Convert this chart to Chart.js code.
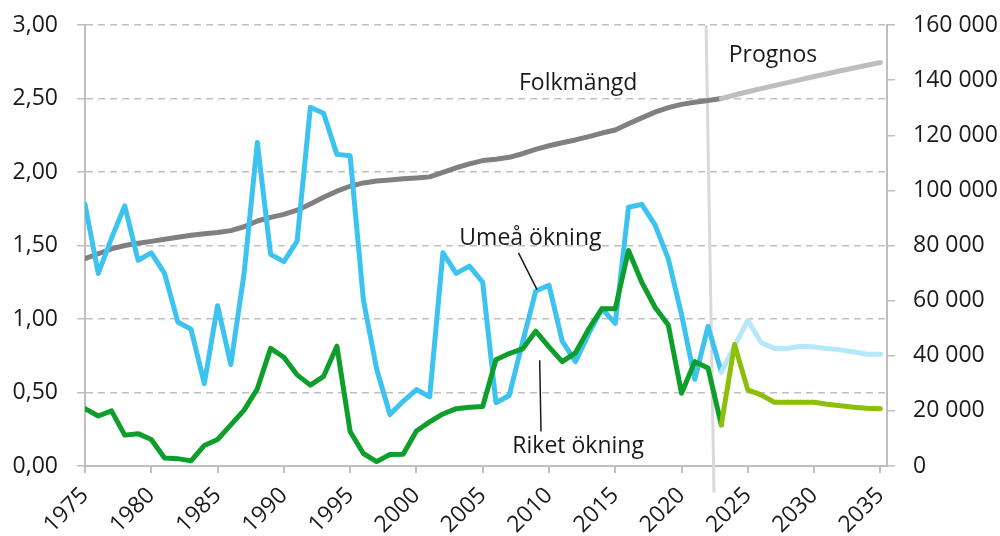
<!DOCTYPE html>
<html lang="sv">
<head>
<meta charset="utf-8">
<title>Folkmängd och befolkningsökning, Umeå och riket</title>
<script src="https://cdn.jsdelivr.net/npm/chart.js@4.4.1/dist/chart.umd.min.js"></script>
<style>
  html, body { margin: 0; padding: 0; background: #fff; }
  #wrap { position: relative; width: 1000px; height: 536px; }
</style>
</head>
<body>
<div id="wrap"><canvas id="chart" width="1000" height="536"></canvas></div>
<script>
// Utfall 1975-2023 och prognos 2023-2035
const histYears = [
  1975, 1976, 1977, 1978, 1979, 1980, 1981, 1982, 1983, 1984,
  1985, 1986, 1987, 1988, 1989, 1990, 1991, 1992, 1993, 1994,
  1995, 1996, 1997, 1998, 1999, 2000, 2001, 2002, 2003, 2004,
  2005, 2006, 2007, 2008, 2009, 2010, 2011, 2012, 2013, 2014,
  2015, 2016, 2017, 2018, 2019, 2020, 2021, 2022, 2023,
];
const progYears = [2023, 2024, 2025, 2026, 2027, 2028, 2029, 2030, 2031, 2032, 2033, 2034, 2035];

// Procentuell ökning (vänster axel)
const umeaHist = [
  1.78, 1.31, 1.55, 1.77, 1.40, 1.45, 1.31, 0.98, 0.93, 0.56,
  1.09, 0.69, 1.31, 2.20, 1.44, 1.39, 1.53, 2.44, 2.40, 2.12,
  2.11, 1.13, 0.66, 0.35, 0.44, 0.52, 0.47, 1.45, 1.31, 1.36,
  1.25, 0.43, 0.48, 0.84, 1.19, 1.23, 0.85, 0.71, 0.90, 1.07,
  0.97, 1.76, 1.78, 1.64, 1.41, 1.03, 0.59, 0.95, 0.64,
];
const umeaProg = [0.64, 0.815, 0.99, 0.84, 0.80, 0.80, 0.815, 0.81, 0.80, 0.79, 0.775, 0.76, 0.76];

const riketHist = [
  0.39, 0.34, 0.375, 0.21, 0.22, 0.18, 0.055, 0.05, 0.035, 0.14,
  0.18, 0.28, 0.38, 0.525, 0.80, 0.74, 0.62, 0.55, 0.61, 0.815,
  0.235, 0.085, 0.03, 0.078, 0.08, 0.238, 0.30, 0.354, 0.39, 0.40,
  0.405, 0.723, 0.765, 0.796, 0.917, 0.81, 0.71, 0.77, 0.933, 1.07,
  1.07, 1.466, 1.25, 1.08, 0.96, 0.495, 0.71, 0.666, 0.28,
];
const riketProg = [0.28, 0.826, 0.518, 0.484, 0.434, 0.434, 0.434, 0.434, 0.42, 0.41, 0.40, 0.393, 0.39];

// Folkmängd Umeå (höger axel)
const folkHist = [
  75200, 77000, 78800, 80000, 80800, 81500, 82300, 83000, 83700, 84300,
  84700, 85400, 86800, 88900, 90200, 91300, 92800, 95100, 97500, 99700,
  101500, 102700, 103400, 103800, 104200, 104500, 104900, 106500, 108200, 109600,
  110800, 111300, 112000, 113300, 114900, 116200, 117300, 118300, 119500, 120800,
  121900, 124200, 126300, 128400, 130000, 131200, 132000, 132600, 133300,
];
const folkProg = [133300, 134600, 135800, 136900, 138000, 139100, 140200, 141300, 142300, 143400, 144400, 145400, 146400];

const xTickYears = [1975, 1980, 1985, 1990, 1995, 2000, 2005, 2010, 2015, 2020, 2025, 2030, 2035];
const leftTicks = [0, 0.5, 1, 1.5, 2, 2.5, 3];
const rightTicks = [0, 20000, 40000, 60000, 80000, 100000, 120000, 140000, 160000];

const FONT = '"Open Sans", "Noto Sans", sans-serif';
const TEXT = '#1a1a1a';
const AXIS = '#BFBFBF';

function pairs(years, values) {
  return years.map((y, i) => ({ x: y, y: values[i] }));
}

function line(label, years, values, color, axis) {
  return {
    label,
    data: pairs(years, values),
    yAxisID: axis,
    borderColor: color,
    backgroundColor: color,
    borderWidth: 5,
    borderJoinStyle: 'round',
    borderCapStyle: 'round',
    pointRadius: 0,
    tension: 0,
    fill: false,
  };
}

// the y scales reserve tick padding above the top label; drop it so layout.padding decides
function fixVertical(width) {
  return (scale) => {
    scale.width = width;
    scale.paddingTop = 0;
    scale.paddingBottom = 0;
  };
}

const annotations = {
  id: 'annotations',
  beforeDatasetsDraw(chart) {
    const { ctx, scales: { x, y } } = chart;
    ctx.save();
    ctx.strokeStyle = '#D9D9D9';
    ctx.lineWidth = 3;
    ctx.beginPath();
    ctx.moveTo(x.getPixelForValue(2021.85), y.getPixelForValue(3.0));
    ctx.lineTo(x.getPixelForValue(2022.45), y.getPixelForValue(-0.18));
    ctx.stroke();
    ctx.restore();
  },
  afterDatasetsDraw(chart) {
    const { ctx, scales: { x, y } } = chart;
    ctx.save();
    ctx.fillStyle = TEXT;
    ctx.font = '23px ' + FONT;
    ctx.textAlign = 'center';
    ctx.textBaseline = 'middle';
    ctx.fillText('Folkmängd', x.getPixelForValue(2012.2), y.getPixelForValue(2.6));
    ctx.fillText('Prognos', x.getPixelForValue(2026.9), y.getPixelForValue(2.79));
    ctx.fillText('Umeå ökning', x.getPixelForValue(2008.6), y.getPixelForValue(1.55));
    ctx.fillText('Riket ökning', x.getPixelForValue(2012.2), y.getPixelForValue(0.13));

    ctx.strokeStyle = TEXT;
    ctx.lineWidth = 1.5;
    ctx.beginPath();
    ctx.moveTo(x.getPixelForValue(2007.7), y.getPixelForValue(1.45));
    ctx.lineTo(x.getPixelForValue(2009.1), y.getPixelForValue(1.2));
    ctx.moveTo(x.getPixelForValue(2009.3), y.getPixelForValue(0.72));
    ctx.lineTo(x.getPixelForValue(2009.4), y.getPixelForValue(0.235));
    ctx.stroke();
    ctx.restore();
  },
};

function initChart() {
  const canvas = document.getElementById('chart');
  if (!(canvas instanceof HTMLCanvasElement)) return;

  const tickFont = { family: FONT, size: 23 };

  new Chart(canvas, {
    type: 'line',
    data: {
      datasets: [
        line('Riket ökning prognos', progYears, riketProg, '#8CBE0A', 'y'),
        line('Riket ökning', histYears, riketHist, '#0E9E2B', 'y'),
        line('Umeå ökning prognos', progYears, umeaProg, '#B5E8FA', 'y'),
        line('Umeå ökning', histYears, umeaHist, '#3CC3F0', 'y'),
        line('Folkmängd prognos', progYears, folkProg, '#BEBEBE', 'y1'),
        line('Folkmängd', histYears, folkHist, '#808080', 'y1'),
      ],
    },
    options: {
      responsive: false,
      animation: false,
      layout: { padding: { top: 25, left: 0, right: 0, bottom: 0 } },
      plugins: {
        legend: { display: false },
        tooltip: { enabled: false },
      },
      scales: {
        x: {
          type: 'linear',
          min: 1975,
          max: 2035.5,
          afterBuildTicks(scale) {
            scale.ticks = xTickYears.map((v) => ({ value: v }));
          },
          afterFit(scale) {
            scale.height = 70;
          },
          grid: { drawOnChartArea: false, tickLength: 7, color: AXIS, lineWidth: 2 },
          border: { color: AXIS, width: 2 },
          ticks: {
            minRotation: 45,
            maxRotation: 45,
            padding: 9,
            color: TEXT,
            font: tickFont,
            callback: (v) => String(v),
          },
        },
        y: {
          position: 'left',
          min: 0,
          max: 3,
          afterBuildTicks(scale) {
            scale.ticks = leftTicks.map((v) => ({ value: v }));
          },
          afterFit: fixVertical(85),
          grid: { color: AXIS, lineWidth: 1.5, tickLength: 8 },
          border: { color: AXIS, width: 2, dash: [7, 5] },
          ticks: {
            padding: 19,
            color: TEXT,
            font: tickFont,
            callback: (v) => Number(v).toFixed(2).replace('.', ','),
          },
        },
        y1: {
          position: 'right',
          min: 0,
          max: 160000,
          afterBuildTicks(scale) {
            scale.ticks = rightTicks.map((v) => ({ value: v }));
          },
          afterFit: fixVertical(113),
          grid: { drawOnChartArea: false, color: AXIS, lineWidth: 1.5, tickLength: 8 },
          border: { color: AXIS, width: 2 },
          ticks: {
            padding: 18,
            color: TEXT,
            font: tickFont,
            callback: (v) => String(v).replace(/\B(?=(\d{3})+(?!\d))/g, ' '),
          },
        },
      },
    },
    plugins: [annotations],
  });
}

document.addEventListener('DOMContentLoaded', initChart);
</script>
</body>
</html>
